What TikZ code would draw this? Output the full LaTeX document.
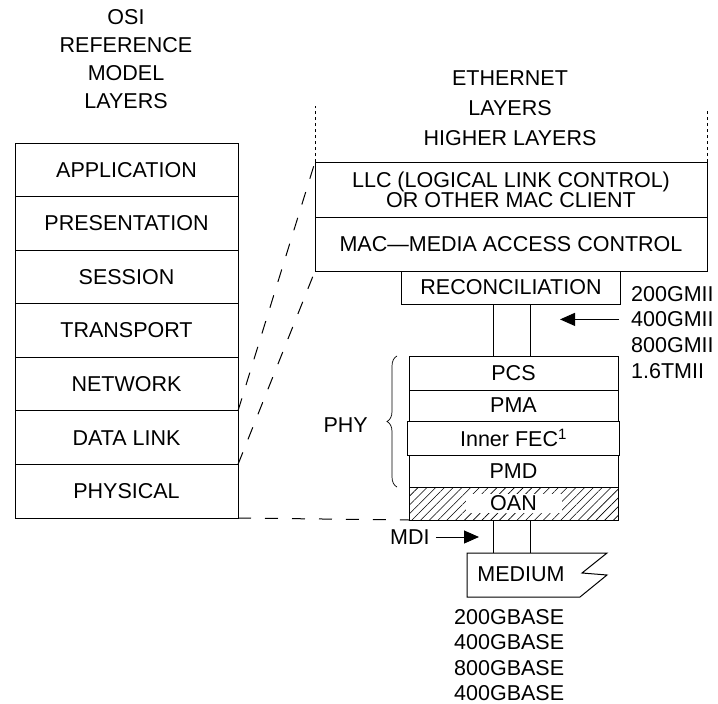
\documentclass[tikz,border=0pt]{standalone}
\usepackage{fontspec}
\setmainfont{Liberation Sans}
\usetikzlibrary{positioning,calc,arrows.meta,patterns.meta,decorations.pathreplacing}

\begin{document}
\begin{tikzpicture}[
    x=1pt, y=-1pt,
    every node/.style={font=\fontsize{21.5}{26}\selectfont},
    layer/.style={draw, rectangle, line width=1pt, inner sep=0pt, outer sep=0pt},
    osibox/.style={layer, minimum width=223pt, minimum height=53.6pt},
    phybox/.style={layer, minimum width=209pt},
    lbl/.style={inner sep=0pt, anchor=west},
    tip/.style={-{Triangle[length=15pt,width=13pt]}, line width=1pt},
    link/.style={line width=1pt, dash pattern=on 13pt off 14pt},
    dotline/.style={line width=0.9pt, dash pattern=on 3pt off 3pt},
    bus/.style={line width=1pt}
]
    \useasboundingbox (0,0) rectangle (718,704);

    % Titles
    \node[align=center, font=\fontsize{21.5}{28}\selectfont] (osititle) at (126,59)
        {OSI\\REFERENCE\\MODEL\\LAYERS};
    \node[align=center, font=\fontsize{21.5}{30}\selectfont] (ethtitle) at (510,108)
        {ETHERNET\\LAYERS\\HIGHER LAYERS};

    % OSI reference model stack
    \foreach \i/\t in {0/APPLICATION, 1/PRESENTATION, 2/SESSION, 3/TRANSPORT,
                       4/NETWORK, 5/DATA LINK, 6/PHYSICAL} {
        \node[osibox] (osi\i) at (126.5,{169.8+53.57*\i}) {\t};
    }

    % Ethernet layers
    \node[layer, minimum width=392pt, minimum height=55pt, align=center,
          font=\fontsize{21.5}{20}\selectfont] (llc) at (511,189.5)
        {LLC (LOGICAL LINK CONTROL)\\OR OTHER MAC CLIENT};
    \node[layer, minimum width=392pt, minimum height=54pt, below=0pt of llc] (mac)
        {MAC\textemdash MEDIA ACCESS CONTROL};
    \node[layer, minimum width=219pt, minimum height=33pt, below=0pt of mac] (rec)
        {RECONCILIATION};

    % PHY sublayers
    \node[phybox, minimum height=34pt] (pcs) at (513.5,373) {PCS};
    \node[phybox, minimum height=31pt, below=0pt of pcs] (pma) {PMA};
    \node[phybox, minimum width=212pt, minimum height=34pt, below=0pt of pma] (fec)
        {Inner FEC\textsuperscript{1}};
    \node[phybox, minimum height=32pt, below=0pt of fec] (pmd) {PMD};
    \node[phybox, minimum height=33pt, below=0pt of pmd,
          pattern={Lines[angle=45, distance=6.2pt, line width=0.6pt]}] (oan) {};
    \node[fill=white, inner sep=0pt, minimum width=96pt, minimum height=19pt] (oantxt)
        at (oan) {OAN};

    % medium
    \node[inner sep=0pt] (med) at (521,574) {MEDIUM};
    \draw[line width=1pt] (467,553) -- (607,553) -- (582,573) -- (607,575)
        -- (580,597) -- (467,597) -- cycle;
    \coordinate (medtop) at (530,553);

    % interface lines
    \coordinate (busl) at (493,0);
    \coordinate (busr) at (530,0);
    \draw[bus] (rec.south -| busl) -- (pcs.north -| busl);
    \draw[bus] (rec.south -| busr) -- (pcs.north -| busr);
    \draw[bus] (oan.south -| busl) -- (medtop -| busl);
    \draw[bus] (oan.south -| busr) -- (medtop -| busr);

    % mapping between the two stacks
    \draw[link] (osi5.north east) -- (llc.north west);
    \draw[link] (osi5.south east) -- (mac.south west);
    \draw[link] (osi6.south east) -- (oan.south west);
    \coordinate (dotl) at (315,106);
    \coordinate (dotr) at (707,110);
    \draw[dotline] (llc.north west) -- (llc.north west |- dotl);
    \draw[dotline] (llc.north east) -- (llc.north east |- dotr);

    % PHY brace
    \draw[line width=0.7pt, decorate, decoration={brace, amplitude=10pt}]
        ([xshift=-12pt]pmd.south west) -- ([xshift=-12pt]pcs.north west);
    \node[inner sep=0pt, anchor=east] (phy) at (368,425) {PHY};

    % media independent interfaces
    \foreach \i/\t in {1/200GMII, 2/400GMII, 3/800GMII, 4/1.6TMII} {
        \node[lbl] (gmii\i) at (631,{268+25.7*\i}) {\t};
    }
    \coordinate (gmiitip) at (560,0);
    \draw[tip, shorten <=12pt] (gmii2.west) -- (gmii2.west -| gmiitip);

    \node[lbl] (mdi) at (390,537) {MDI};
    \coordinate (mditip) at (479,0);
    \draw[tip, shorten <=6pt] (mdi.east) -- (mdi.east -| mditip);

    % PHY types
    \foreach \i/\t in {0/200GBASE, 1/400GBASE, 2/800GBASE, 3/400GBASE} {
        \node[lbl] (base\i) at (454,{617+25.5*\i}) {\t};
    }
\end{tikzpicture}
\end{document}
